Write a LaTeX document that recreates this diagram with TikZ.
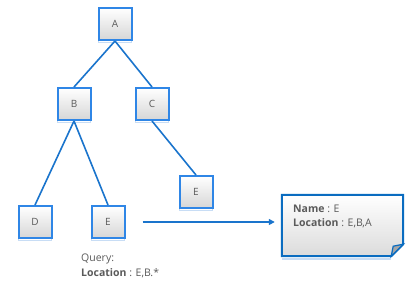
\documentclass[tikz,border=0pt]{standalone}
\usepackage{fontspec}
\setmainfont{Open Sans}
\usetikzlibrary{arrows.meta}
\definecolor{boxblue}{HTML}{2F86E6}
\definecolor{linkblue}{HTML}{1A74CC}
\definecolor{noteblue}{HTML}{0A6CC0}
\definecolor{txtgray}{HTML}{5A5A5A}
\definecolor{glow}{HTML}{C8DDF5}
\tikzset{
  treebox/.style={draw=boxblue, line width=2pt, minimum width=33pt, minimum height=32pt,
    inner sep=0pt, top color=white, bottom color=black!16, text=txtgray,
    font=\fontsize{10}{12}\selectfont,
    preaction={draw=glow, line width=1.5pt, transform canvas={yshift=-2.5pt}}},
  link/.style={draw=linkblue, line width=1.6pt},
  txt/.style={text=txtgray, font=\fontsize{10.5}{12}\selectfont, inner sep=0pt, align=left},
}
\begin{document}
\begin{tikzpicture}[x=1pt,y=-1pt]
\useasboundingbox (0,0) rectangle (415,300);
\node[treebox] (A) at (115,24) {A};
\node[treebox] (B) at (74,104) {B};
\node[treebox] (C) at (152,104) {C};
\node[treebox] (E1) at (196,192) {E};
\node[treebox] (D) at (35,222) {D};
\node[treebox] (E2) at (108,222) {E};
\draw[link] (A.south) -- (B.north);
\draw[link] (A.south) -- (C.north);
\draw[link] (B.south) -- (D.north);
\draw[link] (B.south) -- (E2.north);
\draw[link] (C.south) -- (E1.north);
% note
\node[minimum width=121pt, minimum height=61pt, inner sep=0pt] (note) at (342.5,225.5) {};
\draw[glow, line width=1.5pt] ([yshift=-3pt]note.south west) -- ([yshift=-3pt,xshift=-12pt]note.south east);
\draw[noteblue, line width=2pt, top color=white, bottom color=black!14]
  (note.north west) -- (note.north east) -- ([yshift=12pt]note.south east)
  -- ([xshift=-12pt]note.south east) -- (note.south west) -- cycle;
\draw[noteblue, line width=1.2pt, fill=black!35]
  ([yshift=12pt]note.south east) -- ([xshift=-12pt]note.south east)
  -- ([xshift=-10pt,yshift=10pt]note.south east) -- cycle;
\node[txt, anchor=north west] (notetxt) at (293,205)
  {\textbf{Name} : E\\[2pt]\textbf{Location} : E,B,A};
\draw[linkblue, line width=1.8pt, -{Triangle[length=6pt,width=6pt]}, shorten <=17pt, shorten >=7pt]
  (E2.east) -- (E2.east -| note.west);
\node[txt, anchor=north west] (query) at (81,254)
  {Query:\\[3pt]\textbf{Location} : E,B.*};
\end{tikzpicture}
\end{document}
